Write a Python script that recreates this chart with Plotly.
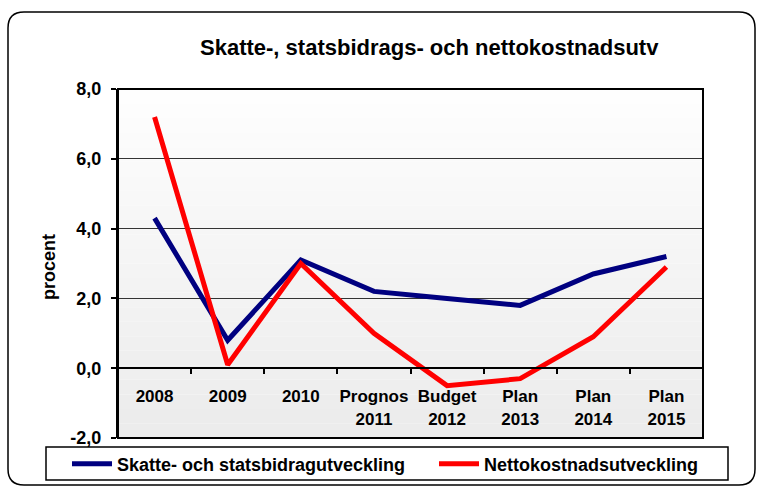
import plotly.graph_objects as go

categories = ["2008", "2009", "2010", "Prognos<br>2011", "Budget<br>2012", "Plan<br>2013", "Plan<br>2014", "Plan<br>2015"]
skatte = [4.3, 0.8, 3.1, 2.2, 2.0, 1.8, 2.7, 3.2]
netto = [7.2, 0.1, 3.0, 1.0, -0.5, -0.3, 0.9, 2.9]
y_ticks = [-2, 0, 2, 4, 6, 8]
y_ticktext = [f"{v:.1f}".replace(".", ",") for v in y_ticks]

W, H = 760, 486
L, R, T, B = 118, 703, 89, 438
pw, ph = R - L, B - T

def px(x):
    return (x - L) / pw

def py(y):
    return (B - y) / ph

FONT = "Liberation Sans, Arial, sans-serif"

fig = go.Figure()
fig.add_trace(go.Scatter(x=categories, y=skatte, mode="lines", name="Skatte- och statsbidragutveckling",
                         line=dict(color="#000080", width=5), legend="legend"))
fig.add_trace(go.Scatter(x=categories, y=netto, mode="lines", name="Nettokostnadsutveckling",
                         line=dict(color="#ff0000", width=5), legend="legend2"))

shapes = []
# gradient background in plot area
n = 24
for i in range(n):
    t = i / (n - 1)
    c = int(254 - 18 * t)
    shapes.append(dict(type="rect", xref="paper", yref="paper", x0=0, x1=1,
                       y0=1 - (i + 1) / n, y1=1 - i / n, line=dict(width=0),
                       fillcolor=f"rgb({c},{c},{c})", layer="below"))
# outer rounded frame
x0, x1, y0, y1, r = 8, 755, 12, 485, 16
rx, ry = r / pw, r / ph
path = (f"M {px(x0)+rx} {py(y0)} L {px(x1)-rx} {py(y0)} Q {px(x1)} {py(y0)} {px(x1)} {py(y0)-ry} "
        f"L {px(x1)} {py(y1)+ry} Q {px(x1)} {py(y1)} {px(x1)-rx} {py(y1)} "
        f"L {px(x0)+rx} {py(y1)} Q {px(x0)} {py(y1)} {px(x0)} {py(y1)+ry} "
        f"L {px(x0)} {py(y0)-ry} Q {px(x0)} {py(y0)} {px(x0)+rx} {py(y0)} Z")
shapes.append(dict(type="path", xref="paper", yref="paper", path=path,
                   line=dict(color="#000000", width=1.5), layer="below"))
# plot frame
shapes.append(dict(type="rect", xref="paper", yref="paper", x0=0, x1=1, y0=0, y1=1,
                   line=dict(color="#000000", width=2), layer="above"))
# legend box
shapes.append(dict(type="rect", xref="paper", yref="paper", x0=px(46), x1=px(728), y0=py(480), y1=py(447),
                   line=dict(color="#000000", width=1.5), fillcolor="white", layer="below"))

legend_common = dict(orientation="h", yanchor="middle", xanchor="left", y=py(464),
                     borderwidth=0, bgcolor="rgba(0,0,0,0)", itemwidth=40,
                     font=dict(size=18, family=FONT, color="black", weight="bold"))

fig.update_layout(
    width=W, height=H,
    margin=dict(l=L, r=W - R, t=T, b=H - B, autoexpand=False),
    paper_bgcolor="white", plot_bgcolor="rgba(0,0,0,0)",
    font=dict(family=FONT, color="black"),
    shapes=shapes,
    showlegend=True,
    legend=dict(x=px(67), **legend_common),
    legend2=dict(x=px(434), **legend_common),
    annotations=[
        dict(text="<b>Skatte-, statsbidrags- och nettokostnadsutv</b>", x=px(429), y=py(47),
             xref="paper", yref="paper", showarrow=False, font=dict(size=22, family=FONT),
             xanchor="center", yanchor="middle"),
        dict(text="<b>procent</b>", x=px(49), y=py(267), xref="paper", yref="paper",
             showarrow=False, textangle=-90, font=dict(size=18, family=FONT),
             xanchor="center", yanchor="middle"),
    ],
)

fig.update_yaxes(range=[-2, 8], tickvals=y_ticks, ticktext=y_ticktext, showgrid=True,
                 gridcolor="#333333", gridwidth=1, showline=True, linecolor="black", linewidth=2,
                 ticks="outside", ticklen=5, tickcolor="black", tickwidth=1.5, ticklabelstandoff=6,
                 tickfont=dict(size=18, family=FONT, weight="bold"), zeroline=False)
fig.update_xaxes(anchor="free", position=py(368), showline=True, linecolor="black", linewidth=2,
                 ticks="outside", tickson="boundaries", ticklen=5, tickcolor="black", tickwidth=1.5,
                 ticklabelstandoff=13, tickangle=0,
                 showgrid=False, tickfont=dict(size=17, family=FONT, weight="bold"),
                 range=[-0.5, 7.5])

fig.write_html("out.html", config={"displayModeBar": False},
               post_script="document.body.style.margin='0';document.body.style.overflow='hidden';")
